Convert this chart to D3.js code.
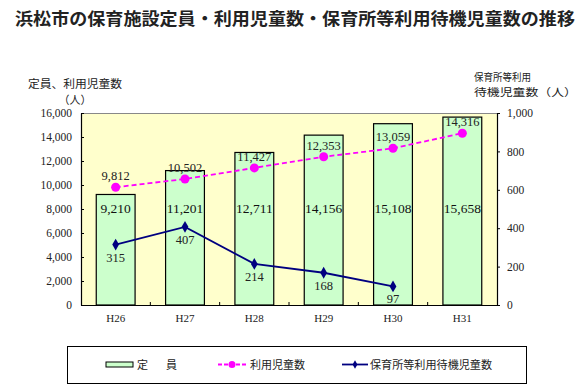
<!DOCTYPE html>
<html><head><meta charset="utf-8">
<script src="https://cdn.jsdelivr.net/npm/d3@7"></script>
<style>
html,body{margin:0;padding:0;background:#fff;}
svg{display:block;}
</style></head>
<body>
<svg id="chart" width="584" height="392"></svg>
<script>
const categories = ["H26","H27","H28","H29","H30","H31"];
const capacity = [9210, 11201, 12711, 14156, 15108, 15658];
const enrolled = [9812, 10502, 11427, 12353, 13059, 14316];
const waiting = [315, 407, 214, 168, 97, null];
const leftTicks = [0, 2000, 4000, 6000, 8000, 10000, 12000, 14000, 16000];
const rightTicks = [0, 200, 400, 600, 800, 1000];

const svg = d3.select("#chart");
const L = 81, R = 497, T = 113, B = 305;
const serif = "'Liberation Serif','DejaVu Serif',serif";
const jp = "'Noto Sans CJK JP','Noto Sans',sans-serif";

const x = d3.scaleBand().domain(categories).range([L, R]).paddingInner(0.44).paddingOuter(0.22);
const yL = d3.scaleLinear().domain([0, 16000]).range([B, T]);
const yR = d3.scaleLinear().domain([0, 1000]).range([B, T]);
const fmt = d3.format(",");

// Title
svg.append("text").attr("x", 15).attr("y", 25)
  .attr("font-family", jp).attr("font-weight", "bold").attr("font-size", 16.5)
  .attr("textLength", 560).attr("lengthAdjust", "spacingAndGlyphs").attr("fill", "#222")
  .text("浜松市の保育施設定員・利用児童数・保育所等利用待機児童数の推移");

// Axis titles
svg.append("text").attr("x", 28).attr("y", 88).attr("font-family", jp).attr("font-size", 11)
  .attr("textLength", 94).attr("lengthAdjust", "spacingAndGlyphs").attr("fill", "#222").text("定員、利用児童数");
svg.append("text").attr("x", 75).attr("y", 104).attr("text-anchor", "middle").attr("font-family", jp)
  .attr("font-size", 11).attr("fill", "#222").text("（人）");
svg.append("text").attr("x", 474).attr("y", 81).attr("font-family", jp).attr("font-size", 10.5)
  .attr("textLength", 57).attr("lengthAdjust", "spacingAndGlyphs").attr("fill", "#222").text("保育所等利用");
svg.append("text").attr("x", 474).attr("y", 96).attr("font-family", jp).attr("font-size", 10.5)
  .attr("textLength", 103).attr("lengthAdjust", "spacingAndGlyphs").attr("fill", "#222").text("待機児童数（人）");

// Plot background
svg.append("rect").attr("x", L).attr("y", T).attr("width", R - L).attr("height", B - T).attr("fill", "#FFFFCC");
svg.append("line").attr("x1", L).attr("x2", R).attr("y1", T + 0.5).attr("y2", T + 0.5).attr("stroke", "#888");

// Bars
svg.append("g").selectAll("rect").data(categories).join("rect")
  .attr("x", d => x(d)).attr("width", x.bandwidth())
  .attr("y", (d, i) => yL(capacity[i])).attr("height", (d, i) => B - yL(capacity[i]))
  .attr("fill", "#CCFFCC").attr("stroke", "#000").attr("stroke-width", 1.2);

// Axes
const gL = svg.append("g").attr("transform", `translate(${L},0)`)
  .call(d3.axisLeft(yL).tickValues(leftTicks).tickFormat(fmt).tickSizeInner(-3).tickSizeOuter(0).tickPadding(9));
const gR = svg.append("g").attr("transform", `translate(${R},0)`)
  .call(d3.axisRight(yR).tickValues(rightTicks).tickFormat(fmt).tickSizeInner(3).tickSizeOuter(0).tickPadding(7));
[gL, gR].forEach(g => {
  g.select(".domain").attr("stroke", "#000").attr("stroke-width", 1.2);
  g.selectAll(".tick line").attr("stroke", "#000");
  g.selectAll("text").attr("font-family", serif).attr("font-size", 11.5).attr("fill", "#222");
});
const gX = svg.append("g").attr("transform", `translate(0,${B})`)
  .call(d3.axisBottom(x).tickSize(0).tickPadding(9));
gX.select(".domain").attr("stroke", "#000").attr("stroke-width", 1.2);
gX.selectAll("text").attr("font-family", serif).attr("font-size", 11).attr("fill", "#222");
// category boundary ticks
const step = x.step();
svg.append("g").selectAll("line").data(categories.slice(1)).join("line")
  .attr("x1", d => x(d) - x.paddingInner() * step / 2).attr("x2", d => x(d) - x.paddingInner() * step / 2)
  .attr("y1", B).attr("y2", B - 3).attr("stroke", "#000");

const cx = d => x(d) + x.bandwidth() / 2;

// Capacity labels
svg.append("g").selectAll("text").data(categories).join("text")
  .attr("x", d => cx(d)).attr("y", yL(8000) + 4).attr("text-anchor", "middle")
  .attr("font-family", serif).attr("font-size", 13.5).attr("fill", "#111")
  .text((d, i) => fmt(capacity[i]));

// Enrolled line
const lineE = d3.line().x((d, i) => cx(categories[i])).y(d => yL(d));
svg.append("path").datum(enrolled).attr("d", lineE).attr("fill", "none")
  .attr("stroke", "#FF00FF").attr("stroke-width", 1.8).attr("stroke-dasharray", "5,3");
svg.append("g").selectAll("circle").data(enrolled).join("circle")
  .attr("cx", (d, i) => cx(categories[i])).attr("cy", d => yL(d)).attr("r", 4.5).attr("fill", "#FF00FF");
svg.append("g").selectAll("text").data(enrolled).join("text")
  .attr("x", (d, i) => cx(categories[i])).attr("y", d => yL(d) - 7).attr("text-anchor", "middle")
  .attr("font-family", serif).attr("font-size", 12.5).attr("fill", "#222").text(d => fmt(d));

// Waiting line
const wPts = waiting.map((v, i) => ({c: categories[i], v})).filter(p => p.v != null);
const lineW = d3.line().x(p => cx(p.c)).y(p => yR(p.v));
svg.append("path").datum(wPts).attr("d", lineW).attr("fill", "none")
  .attr("stroke", "#000080").attr("stroke-width", 1.8);
svg.append("g").selectAll("path").data(wPts).join("path")
  .attr("d", d3.symbol(d3.symbolDiamond, 40))
  .attr("transform", p => `translate(${cx(p.c)},${yR(p.v)})`).attr("fill", "#000080");
svg.append("g").selectAll("text").data(wPts).join("text")
  .attr("x", p => cx(p.c)).attr("y", p => yR(p.v) + 17).attr("text-anchor", "middle")
  .attr("font-family", serif).attr("font-size", 12.5).attr("fill", "#222").text(p => fmt(p.v));

// Legend
const lg = svg.append("g");
lg.append("rect").attr("x", 67.5).attr("y", 346.5).attr("width", 459).attr("height", 37)
  .attr("fill", "#fff").attr("stroke", "#000").attr("stroke-width", 1);
const ly = 364.5;
lg.append("rect").attr("x", 106).attr("y", ly - 2.5).attr("width", 27).attr("height", 5)
  .attr("fill", "#CCFFCC").attr("stroke", "#000");
lg.append("text").attr("x", 137).attr("y", ly + 4).attr("font-family", jp).attr("font-size", 11)
  .attr("fill", "#222").text("定");
lg.append("text").attr("x", 166).attr("y", ly + 4).attr("font-family", jp).attr("font-size", 11)
  .attr("fill", "#222").text("員");
lg.append("line").attr("x1", 218).attr("x2", 247).attr("y1", ly).attr("y2", ly)
  .attr("stroke", "#FF00FF").attr("stroke-width", 1.8).attr("stroke-dasharray", "4,2");
lg.append("circle").attr("cx", 232).attr("cy", ly).attr("r", 3.5).attr("fill", "#FF00FF");
lg.append("text").attr("x", 250).attr("y", ly + 4).attr("font-family", jp).attr("font-size", 11)
  .attr("textLength", 55).attr("lengthAdjust", "spacingAndGlyphs").attr("fill", "#222").text("利用児童数");
lg.append("line").attr("x1", 342).attr("x2", 368).attr("y1", ly).attr("y2", ly)
  .attr("stroke", "#000080").attr("stroke-width", 1.8);
lg.append("path").attr("d", d3.symbol(d3.symbolDiamond, 20)).attr("transform", `translate(355,${ly})`)
  .attr("fill", "#000080");
lg.append("text").attr("x", 370).attr("y", ly + 4).attr("font-family", jp).attr("font-size", 11)
  .attr("textLength", 122).attr("lengthAdjust", "spacingAndGlyphs").attr("fill", "#222").text("保育所等利用待機児童数");
</script>
</body></html>
